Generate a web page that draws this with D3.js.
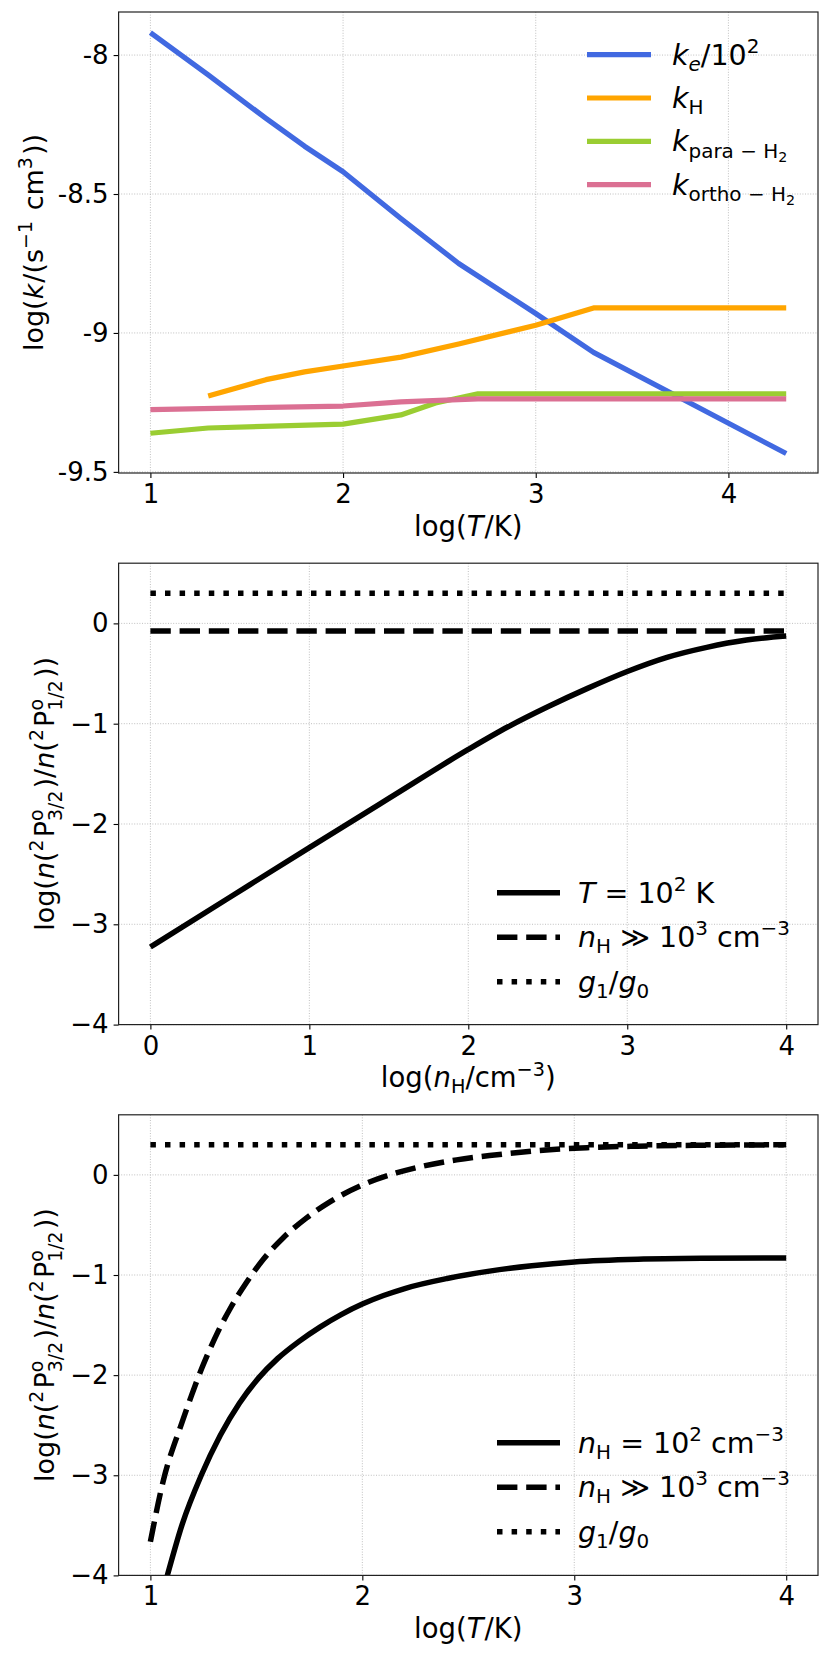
<!DOCTYPE html>
<html><head><meta charset="utf-8">
<script src="https://cdn.jsdelivr.net/npm/d3@7"></script>
<style>body{margin:0;background:#fff} text{font-family:"DejaVu Sans",sans-serif;white-space:pre}</style>
</head><body>
<svg id="c" width="830" height="1661"></svg>
<script>
// ---------- Panel 1 data: rate coefficients vs log T ----------
const p1_logT_e = [1, 1.3, 1.6, 1.8, 2, 2.3, 2.6, 3, 3.3, 4.3];
const p1_k_e = [-7.919, -8.071, -8.228, -8.328, -8.420, -8.588, -8.750, -8.930, -9.070, -9.434];
const p1_logT_H = [1.3, 1.6, 1.8, 2, 2.3, 2.6, 3, 3.3, 4.3];
const p1_k_H = [-9.227, -9.168, -9.140, -9.119, -9.087, -9.040, -8.972, -8.910, -8.910];
const p1_logT_para = [1, 1.3, 2, 2.3, 2.48, 2.7, 4.3];
const p1_k_para = [-9.361, -9.342, -9.328, -9.295, -9.252, -9.219, -9.219];
const p1_logT_ortho = [1, 2, 2.3, 2.7, 4.3];
const p1_k_ortho = [-9.276, -9.263, -9.248, -9.237, -9.237];
const p1_xTicks = [1, 2, 3, 4];
const p1_yTicks = [-8, -8.5, -9, -9.5];
const p1_yTickLabels = ["-8", "-8.5", "-9", "-9.5"];
const p1_colors = ["#4169E1", "#FFA500", "#9ACD32", "#DB7093"];

// ---------- Panel 2 data: ratio vs log nH at T = 100 K ----------
const p2_logn = [0, 0.5, 1, 1.5, 2, 2.25, 2.5, 2.75, 3, 3.25, 3.5, 3.75, 4];
const p2_ratio = [-3.226, -2.73, -2.235, -1.745, -1.257, -1.031, -0.831, -0.648, -0.48, -0.339, -0.239, -0.166, -0.126];
const p2_highX = [0, 4];
const p2_high = [-0.077, -0.077];
const p2_gX = [0, 4];
const p2_g = [0.301, 0.301];
const p2_xTicks = [0, 1, 2, 3, 4];
const p2_yTicks = [0, -1, -2, -3, -4];

// ---------- Panel 3 data: ratio vs log T ----------
const p3_logT = [1.0, 1.08, 1.15, 1.24, 1.33, 1.42, 1.51, 1.6, 1.7, 1.8, 1.9, 2.0, 2.1, 2.2, 2.4, 2.6, 2.8, 3.0, 3.3, 3.6, 4.0];
const p3_ratio = [-4.65, -4.0, -3.49, -3.0, -2.60, -2.28, -2.03, -1.835, -1.665, -1.52, -1.395, -1.29, -1.205, -1.135, -1.035, -0.961, -0.907, -0.869, -0.842, -0.833, -0.83];
const p3_highT = [1.0, 1.061, 1.148, 1.195, 1.242, 1.28, 1.319, 1.376, 1.454, 1.533, 1.627, 1.737, 1.847, 2.0, 2.16, 2.27, 2.445, 2.6, 2.76, 2.916, 3.06, 3.3, 3.6, 4.0];
const p3_high = [-3.663, -3.053, -2.479, -2.197, -1.934, -1.744, -1.565, -1.337, -1.072, -0.843, -0.627, -0.429, -0.269, -0.101, 0.019, 0.08, 0.15, 0.193, 0.228, 0.255, 0.272, 0.287, 0.296, 0.300];
const p3_gX = [1, 4];
const p3_g = [0.301, 0.301];
const p3_xTicks = [1, 2, 3, 4];
const p3_yTicks = [0, -1, -2, -3, -4];

const minusFmt = d => d < 0 ? "\u2212" + Math.abs(d) : String(d);

const svg = d3.select("#c");
const L = 118.6, R = 818;
let clipId = 0;

// rich text (mathtext-like) renderer
function rich(parent, runs, o) {
  const g = parent.append("g").attr("transform", `translate(${o.x},${o.y})` + (o.rotate ? ` rotate(${o.rotate})` : ""));
  let x = 0, prevStart = 0;
  const items = [];
  runs.forEach(r => {
    const sz = o.size * (r.s || 1);
    const t = g.append("text").attr("font-size", sz)
      .attr("font-style", r.it ? "italic" : "normal").attr("fill", "#000").text(r.t);
    const w = t.node().getComputedTextLength();
    const x0 = r.stack ? prevStart : x;
    t.attr("x", x0).attr("y", (r.dy || 0) * o.size);
    prevStart = x0;
    x = Math.max(x, x0 + w + (r.gap || 0) * o.size);
    items.push([t, x0]);
  });
  const shift = o.anchor === "middle" ? -x / 2 : o.anchor === "end" ? -x : 0;
  items.forEach(([t, x0]) => t.attr("x", x0 + shift));
  return g;
}
const sub = (t, it) => ({t, s: 0.7, dy: 0.22, it});
const sup = (t) => ({t, s: 0.7, dy: -0.42});
const lsup = (t) => ({t, s: 0.7, dy: -0.42, gap: 0.08});
const lsub = (t) => ({t, s: 0.7, dy: 0.3, stack: true, gap: 0.08});

function panel(cfg) {
  const x = d3.scaleLinear().domain(cfg.xd).range([L, R]);
  const y = d3.scaleLinear().domain(cfg.yd).range([cfg.bottom, cfg.top]);
  const g = svg.append("g");
  const id = "clip" + (clipId++);
  g.append("clipPath").attr("id", id).append("rect")
    .attr("x", L).attr("y", cfg.top).attr("width", R - L).attr("height", cfg.bottom - cfg.top);
  // grid
  const grid = g.append("g").attr("stroke", "#b0b0b0").attr("stroke-width", 0.8).attr("stroke-dasharray", "1,1.6");
  grid.selectAll(".gx").data(cfg.xTicks).join("line")
    .attr("x1", d => x(d)).attr("x2", d => x(d)).attr("y1", cfg.top).attr("y2", cfg.bottom);
  grid.selectAll(".gy").data(cfg.yTicks).join("line")
    .attr("y1", d => y(d)).attr("y2", d => y(d)).attr("x1", L).attr("x2", R);
  // series
  const lg = g.append("g").attr("clip-path", `url(#${id})`);
  cfg.series.forEach(s => {
    const line = d3.line().x((d, i) => x(s.x[i])).y(d => y(d)).curve(s.curve || d3.curveLinear);
    lg.append("path").attr("d", line(s.y)).attr("fill", "none")
      .attr("stroke", s.color).attr("stroke-width", s.w)
      .attr("stroke-dasharray", s.dash || null).attr("stroke-linecap", "butt")
      .attr("stroke-linejoin", "round");
  });
  // axes
  const ax = g.append("g").attr("transform", `translate(0,${cfg.bottom})`)
    .call(d3.axisBottom(x).tickValues(cfg.xTicks).tickSize(5).tickPadding(6.5).tickFormat(d => String(d)));
  const ay = g.append("g").attr("transform", `translate(${L},0)`)
    .call(d3.axisLeft(y).tickValues(cfg.yTicks).tickSize(5).tickPadding(5).tickFormat(cfg.yFmt));
  [ax, ay].forEach(a => {
    a.select(".domain").remove();
    a.selectAll(".tick line").attr("stroke", "#000").attr("stroke-width", 1.1);
    a.selectAll(".tick text").attr("font-size", 26).attr("font-family", "DejaVu Sans").attr("fill", "#000");
  });
  // spines
  g.append("rect").attr("x", L).attr("y", cfg.top).attr("width", R - L).attr("height", cfg.bottom - cfg.top)
    .attr("fill", "none").attr("stroke", "#222").attr("stroke-width", 1.2);
  // labels
  rich(g, cfg.xlabel, {x: (L + R) / 2, y: cfg.bottom + 62.5, size: 27.5, anchor: "middle"});
  rich(g, cfg.ylabel, {x: cfg.ylabelX, y: (cfg.top + cfg.bottom) / 2, size: 27, anchor: "middle", rotate: -90});
  // legend
  cfg.legend.items.forEach((it, i) => {
    const ly = cfg.legend.y0 + i * cfg.legend.dy;
    g.append("line").attr("x1", cfg.legend.x1).attr("x2", cfg.legend.x2).attr("y1", ly).attr("y2", ly)
      .attr("stroke", it.color).attr("stroke-width", it.w).attr("stroke-dasharray", it.dash || null);
    rich(g, it.label, {x: cfg.legend.tx, y: ly + 10, size: 28.5, anchor: "start"});
  });
}

const DASH = "20.4,8.8", DOT = "5.5,9.1";

panel({
  xd: [0.835, 4.465], yd: [-9.504, -7.845], top: 12, bottom: 473,
  xTicks: p1_xTicks, yTicks: p1_yTicks,
  yFmt: (d, i) => p1_yTickLabels[i],
  series: [
    {x: p1_logT_e, y: p1_k_e, color: p1_colors[0], w: 5.2},
    {x: p1_logT_H, y: p1_k_H, color: p1_colors[1], w: 5.2},
    {x: p1_logT_para, y: p1_k_para, color: p1_colors[2], w: 5.2},
    {x: p1_logT_ortho, y: p1_k_ortho, color: p1_colors[3], w: 5.2}
  ],
  xlabel: [{t: "log("}, {t: "T", it: true, gap: 0.04}, {t: "/K)"}],
  ylabel: [{t: "log("}, {t: "k", it: true, gap: 0.04}, {t: "/(s"}, lsup("\u22121"), {t: " cm"}, lsup("3"), {t: "))"}],
  ylabelX: 43,
  legend: {x1: 587, x2: 651, tx: 672, y0: 54.7, dy: 43.3, items: [
    {color: p1_colors[0], w: 5.2, label: [{t: "k", it: true}, sub("e", true), {t: "/10"}, sup("2")]},
    {color: p1_colors[1], w: 5.2, label: [{t: "k", it: true}, sub("H")]},
    {color: p1_colors[2], w: 5.2, label: [{t: "k", it: true}, sub("para \u2212 H"), {t: "2", s: 0.5, dy: 0.36}]},
    {color: p1_colors[3], w: 5.2, label: [{t: "k", it: true}, sub("ortho \u2212 H"), {t: "2", s: 0.5, dy: 0.36}]}
  ]}
});

const ratioLabel = [{t: "log("}, {t: "n", it: true}, {t: "("}, lsup("2"), {t: "P"}, lsup("o"),
  lsub("3/2"), {t: ")/"}, {t: "n", it: true}, {t: "("}, lsup("2"), {t: "P"}, lsup("o"),
  lsub("1/2"), {t: "))"}];

panel({
  xd: [-0.2, 4.2], yd: [-4, 0.6], top: 563.2, bottom: 1024.6,
  xTicks: p2_xTicks, yTicks: p2_yTicks, yFmt: minusFmt,
  series: [
    {x: p2_logn, y: p2_ratio, color: "#000", w: 5.5, curve: d3.curveMonotoneX},
    {x: p2_highX, y: p2_high, color: "#000", w: 5.5, dash: DASH},
    {x: p2_gX, y: p2_g, color: "#000", w: 5.5, dash: DOT}
  ],
  xlabel: [{t: "log("}, {t: "n", it: true}, sub("H"), {t: "/cm"}, sup("\u22123"), {t: ")"}],
  ylabel: ratioLabel, ylabelX: 54,
  legend: {x1: 497, x2: 560, tx: 578, y0: 892.7, dy: 44.5, items: [
    {color: "#000", w: 5.5, label: [{t: "T", it: true}, {t: " = 10"}, sup("2"), {t: " K"}]},
    {color: "#000", w: 5.5, dash: DASH, label: [{t: "n", it: true}, sub("H"), {t: " \u226B 10"}, sup("3"), {t: " cm"}, sup("\u22123")]},
    {color: "#000", w: 5.5, dash: DOT, label: [{t: "g", it: true}, sub("1"), {t: "/"}, {t: "g", it: true}, sub("0")]}
  ]}
});

panel({
  xd: [0.85, 4.15], yd: [-4, 0.6], top: 1114.8, bottom: 1575.4,
  xTicks: p3_xTicks, yTicks: p3_yTicks, yFmt: minusFmt,
  series: [
    {x: p3_logT, y: p3_ratio, color: "#000", w: 5.5, curve: d3.curveMonotoneX},
    {x: p3_highT, y: p3_high, color: "#000", w: 5.5, dash: DASH, curve: d3.curveMonotoneX},
    {x: p3_gX, y: p3_g, color: "#000", w: 5.5, dash: DOT}
  ],
  xlabel: [{t: "log("}, {t: "T", it: true, gap: 0.04}, {t: "/K)"}],
  ylabel: ratioLabel, ylabelX: 54,
  legend: {x1: 497, x2: 560, tx: 578, y0: 1442.7, dy: 44.5, items: [
    {color: "#000", w: 5.5, label: [{t: "n", it: true}, sub("H"), {t: " = 10"}, sup("2"), {t: " cm"}, sup("\u22123")]},
    {color: "#000", w: 5.5, dash: DASH, label: [{t: "n", it: true}, sub("H"), {t: " \u226B 10"}, sup("3"), {t: " cm"}, sup("\u22123")]},
    {color: "#000", w: 5.5, dash: DOT, label: [{t: "g", it: true}, sub("1"), {t: "/"}, {t: "g", it: true}, sub("0")]}
  ]}
});
</script>
</body></html>
